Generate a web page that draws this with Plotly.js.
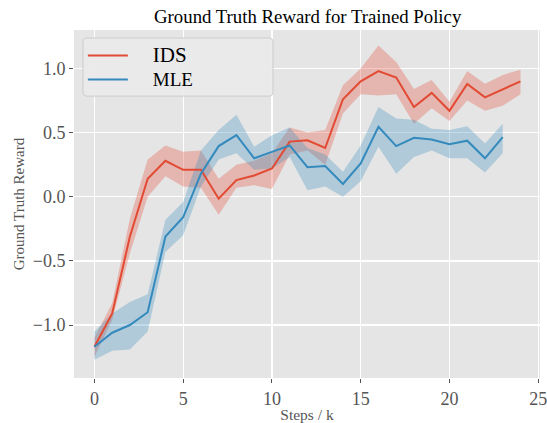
<!DOCTYPE html>
<html>
<head>
<meta charset="utf-8">
<script src="https://cdn.plot.ly/plotly-3.0.1.min.js"></script>
<style>html,body{margin:0;padding:0;background:#fff;}#chart{width:547px;height:423px;}</style>
</head>
<body>
<div id="chart"></div>
<script>
// ---- data ----
const idsSteps = [0,1,2,3,4,5,6,7,8,9,10,11,12,13,14,15,16,17,18,19,20,21,22,23,24];
const idsMean  = [-1.17,-0.91,-0.31,0.14,0.28,0.21,0.21,-0.015,0.13,0.165,0.22,0.43,0.44,0.38,0.76,0.90,0.98,0.93,0.70,0.81,0.67,0.88,0.775,0.84,0.90];
const idsUpper = [-1.10,-0.83,-0.17,0.29,0.40,0.35,0.36,0.14,0.25,0.28,0.34,0.54,0.50,0.52,0.87,1.00,1.18,1.05,0.84,0.91,0.74,0.98,0.88,0.95,0.99];
const idsLower = [-1.25,-0.96,-0.44,0.00,0.16,0.08,0.07,-0.14,0.07,0.09,0.06,0.33,0.36,0.25,0.65,0.80,0.79,0.80,0.57,0.69,0.59,0.75,0.67,0.71,0.80];

const mleSteps = [0,1,2,3,4,5,6,7,8,9,10,11,12,13,14,15,16,17,18,19,20,21,22,23];
const mleMean  = [-1.17,-1.06,-1.00,-0.90,-0.31,-0.16,0.18,0.395,0.48,0.30,0.35,0.40,0.23,0.24,0.10,0.26,0.546,0.395,0.46,0.447,0.41,0.437,0.30,0.465];
const mleUpper = [-1.05,-0.91,-0.82,-0.76,-0.18,-0.04,0.36,0.52,0.64,0.39,0.48,0.54,0.38,0.33,0.195,0.40,0.70,0.61,0.60,0.53,0.52,0.55,0.415,0.57];
const mleLower = [-1.27,-1.20,-1.19,-1.05,-0.43,-0.30,0.08,0.29,0.34,0.21,0.22,0.31,0.05,0.08,0.00,0.12,0.39,0.18,0.31,0.36,0.30,0.30,0.19,0.34];

const seriesNames = ['IDS','MLE'];
const titleText = 'Ground Truth Reward for Trained Policy';
const xTitle = 'Steps / k';
const yTitle = 'Ground Truth Reward';

// ---- styles ----
const RED = '#E24A33', BLUE = '#348ABD';
const FONT = 'Liberation Serif, Times New Roman, Times, serif';
const PAD = '\u00a0\u00a0\u00a0\u00a0\u00a0';

function band(x, lo, hi, color) {
  return {
    x: x.concat(x.slice().reverse()),
    y: hi.concat(lo.slice().reverse()),
    type: 'scatter', mode: 'lines', fill: 'toself',
    fillcolor: color, line: {width: 0, color: 'rgba(0,0,0,0)'},
    hoverinfo: 'skip', showlegend: false
  };
}

const traces = [
  band(idsSteps, idsLower, idsUpper, 'rgba(226,74,51,0.3)'),
  band(mleSteps, mleLower, mleUpper, 'rgba(52,138,189,0.3)'),
  {x: idsSteps, y: idsMean, type: 'scatter', mode: 'lines',
   name: PAD + '<span style="font-size:21px">' + seriesNames[0] + '</span>',
   line: {color: RED, width: 2}},
  {x: mleSteps, y: mleMean, type: 'scatter', mode: 'lines',
   name: PAD + '<span style="font-size:19px">' + seriesNames[1] + '</span>',
   line: {color: BLUE, width: 2}}
];

const axisCommon = {
  showgrid: true, gridcolor: '#FFFFFF', gridwidth: 1.3,
  zeroline: false, showline: false,
  ticks: 'outside', ticklen: 4, tickwidth: 1, tickcolor: '#555555',
  ticklabeloverflow: 'allow',
  tickfont: {family: FONT, size: 18, color: '#555555'}
};

const layout = {
  width: 547, height: 423,
  margin: {l: 74, r: 7, t: 30, b: 45},
  paper_bgcolor: '#FFFFFF', plot_bgcolor: '#E5E5E5',
  font: {family: FONT, color: '#555555'},
  title: {text: titleText, font: {family: FONT, size: 18.8, color: '#000000'},
          x: 0.5625, xanchor: 'center', y: 0.976, yanchor: 'top'},
  xaxis: Object.assign({}, axisCommon, {
    range: [-1.15, 25.1], tick0: 0, dtick: 5,
    title: {text: xTitle, font: {family: FONT, size: 15.5, color: '#555555'}, standoff: 7}
  }),
  yaxis: Object.assign({}, axisCommon, {
    range: [-1.413, 1.30], tick0: 0, dtick: 0.5, tickformat: '.1f',
    title: {text: yTitle, font: {family: FONT, size: 15, color: '#555555'}, standoff: 4}
  }),
  shapes: [{
    type: 'path', xref: 'paper', yref: 'paper', layer: 'above',
    path: 'M0.0193,0.965 L0.0193,0.822 Q0.0193,0.810 0.0279,0.810 L0.418,0.810 Q0.427,0.810 0.427,0.822 L0.427,0.965 Q0.427,0.977 0.418,0.977 L0.0279,0.977 Q0.0193,0.977 0.0193,0.965 Z',
    fillcolor: 'rgba(234,234,234,0.92)', line: {color: '#CCCCCC', width: 1}
  }],
  legend: {
    x: 0.019, y: 0.975, xanchor: 'left', yanchor: 'top',
    bgcolor: 'rgba(0,0,0,0)', borderwidth: 0,
    font: {family: FONT, size: 16, color: '#000000'},
    itemwidth: 40, tracegroupgap: 0
  },
  showlegend: true
};

Plotly.newPlot('chart', traces, layout, {displayModeBar: false, staticPlot: true});
</script>
</body>
</html>
